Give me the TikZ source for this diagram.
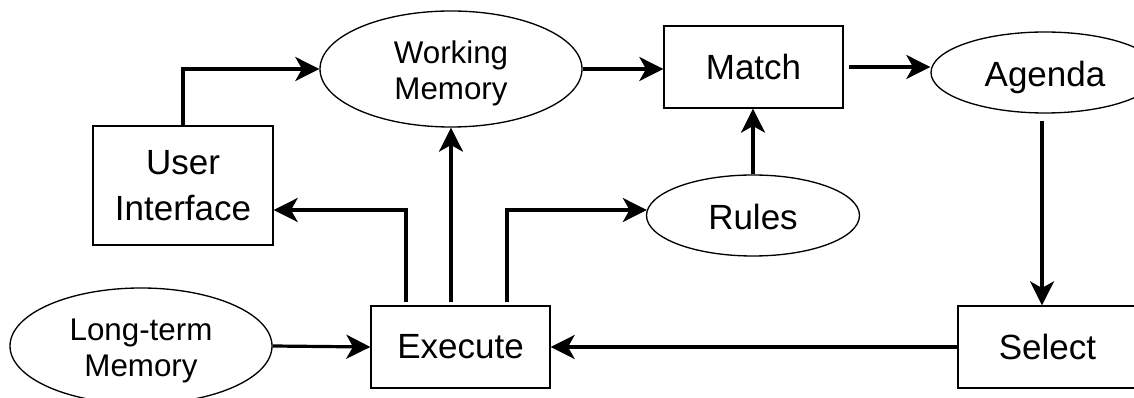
\documentclass[tikz,border=0pt]{standalone}
\usepackage{fontspec}
\setmainfont{Liberation Sans}
\usetikzlibrary{arrows.meta,shapes.geometric,calc}

% text set a little below the centre of its shape, keeping its size
\newcommand\sunk[1]{\raisebox{-4pt}[\height][\depth]{\begin{tabular}{@{}c@{}}#1\end{tabular}}}

\begin{document}
\begin{tikzpicture}[x=0.75pt,y=-0.75pt,
  box/.style={draw,line width=1pt,rectangle,inner sep=0pt,align=center,
    minimum width=134.25pt,minimum height=61.5pt,font=\fontsize{26.25}{34}\selectfont},
  oval/.style={draw,line width=1pt,ellipse,inner sep=0pt,align=center},
  bigoval/.style={oval,minimum width=196.5pt,minimum height=87pt,
    font=\fontsize{23.5}{27.5}\selectfont},
  smalloval/.style={oval,minimum height=60.75pt,font=\fontsize{26.25}{32}\selectfont},
  flow/.style={line width=2.4pt,-{Stealth[length=18pt,width=18pt,inset=5pt]}}
]
\useasboundingbox (0,0) rectangle (1134,398);
\fill[white] (0,0) rectangle (1134,398);
\clip (0,0) rectangle (1134,398);

% components of the production system
\node[bigoval] (WM) at (451,69) {\sunk{Working\\Memory}};
\node[bigoval] (LTM) at (141,346) {\sunk{Long-term\\Memory}};
\node[smalloval,minimum width=159.75pt] (Rules) at (753,215.5) {\sunk{Rules}};
\node[smalloval,minimum width=171pt] (Agenda) at (1045,72.5) {\sunk{Agenda}};
\node[box] (Match) at (753.5,67) {Match};
\node[box] (Execute) at (460.5,347) {Execute};
\node[box] (Select) at (1047.5,347) {Select};
\node[box,minimum width=135pt,minimum height=89.25pt] (UI) at (183,185.5) {User\\Interface};

% recognise-act cycle
\draw[flow] (UI.north) |- (WM.west);
\draw[flow] (WM.east) -- (WM.east -| Match.west);
\coordinate (mo) at ($(Match.east)+(5,0)$);
\draw[flow] (mo) -- (mo -| Agenda.west);
\coordinate (ao) at ($(Agenda.south)+(-3,7)$);
\draw[flow] (ao) -- (ao |- Select.north);
\draw[flow] (Select.west) -- (Execute.east);
\draw[flow] (LTM.east) -- (Execute.west);
\draw[flow] (Rules.north) -- (Rules.north |- Match.south);

% outputs of Execute
\coordinate (e1) at ($(Execute.north)+(-54.5,-3)$);
\coordinate (uiin) at ($(UI.east)+(0,24.5)$);
\draw[flow] (e1) |- (uiin);
\coordinate (e2) at ($(Execute.north -| WM.south)+(0,-3)$);
\draw[flow] (e2) -- (WM.south);
\coordinate (e3) at ($(Execute.north)+(46.5,-3)$);
\coordinate (rin) at ($(Rules.west)+(1,-5.5)$);
\draw[flow] (e3) |- (rin);
\end{tikzpicture}
\end{document}
